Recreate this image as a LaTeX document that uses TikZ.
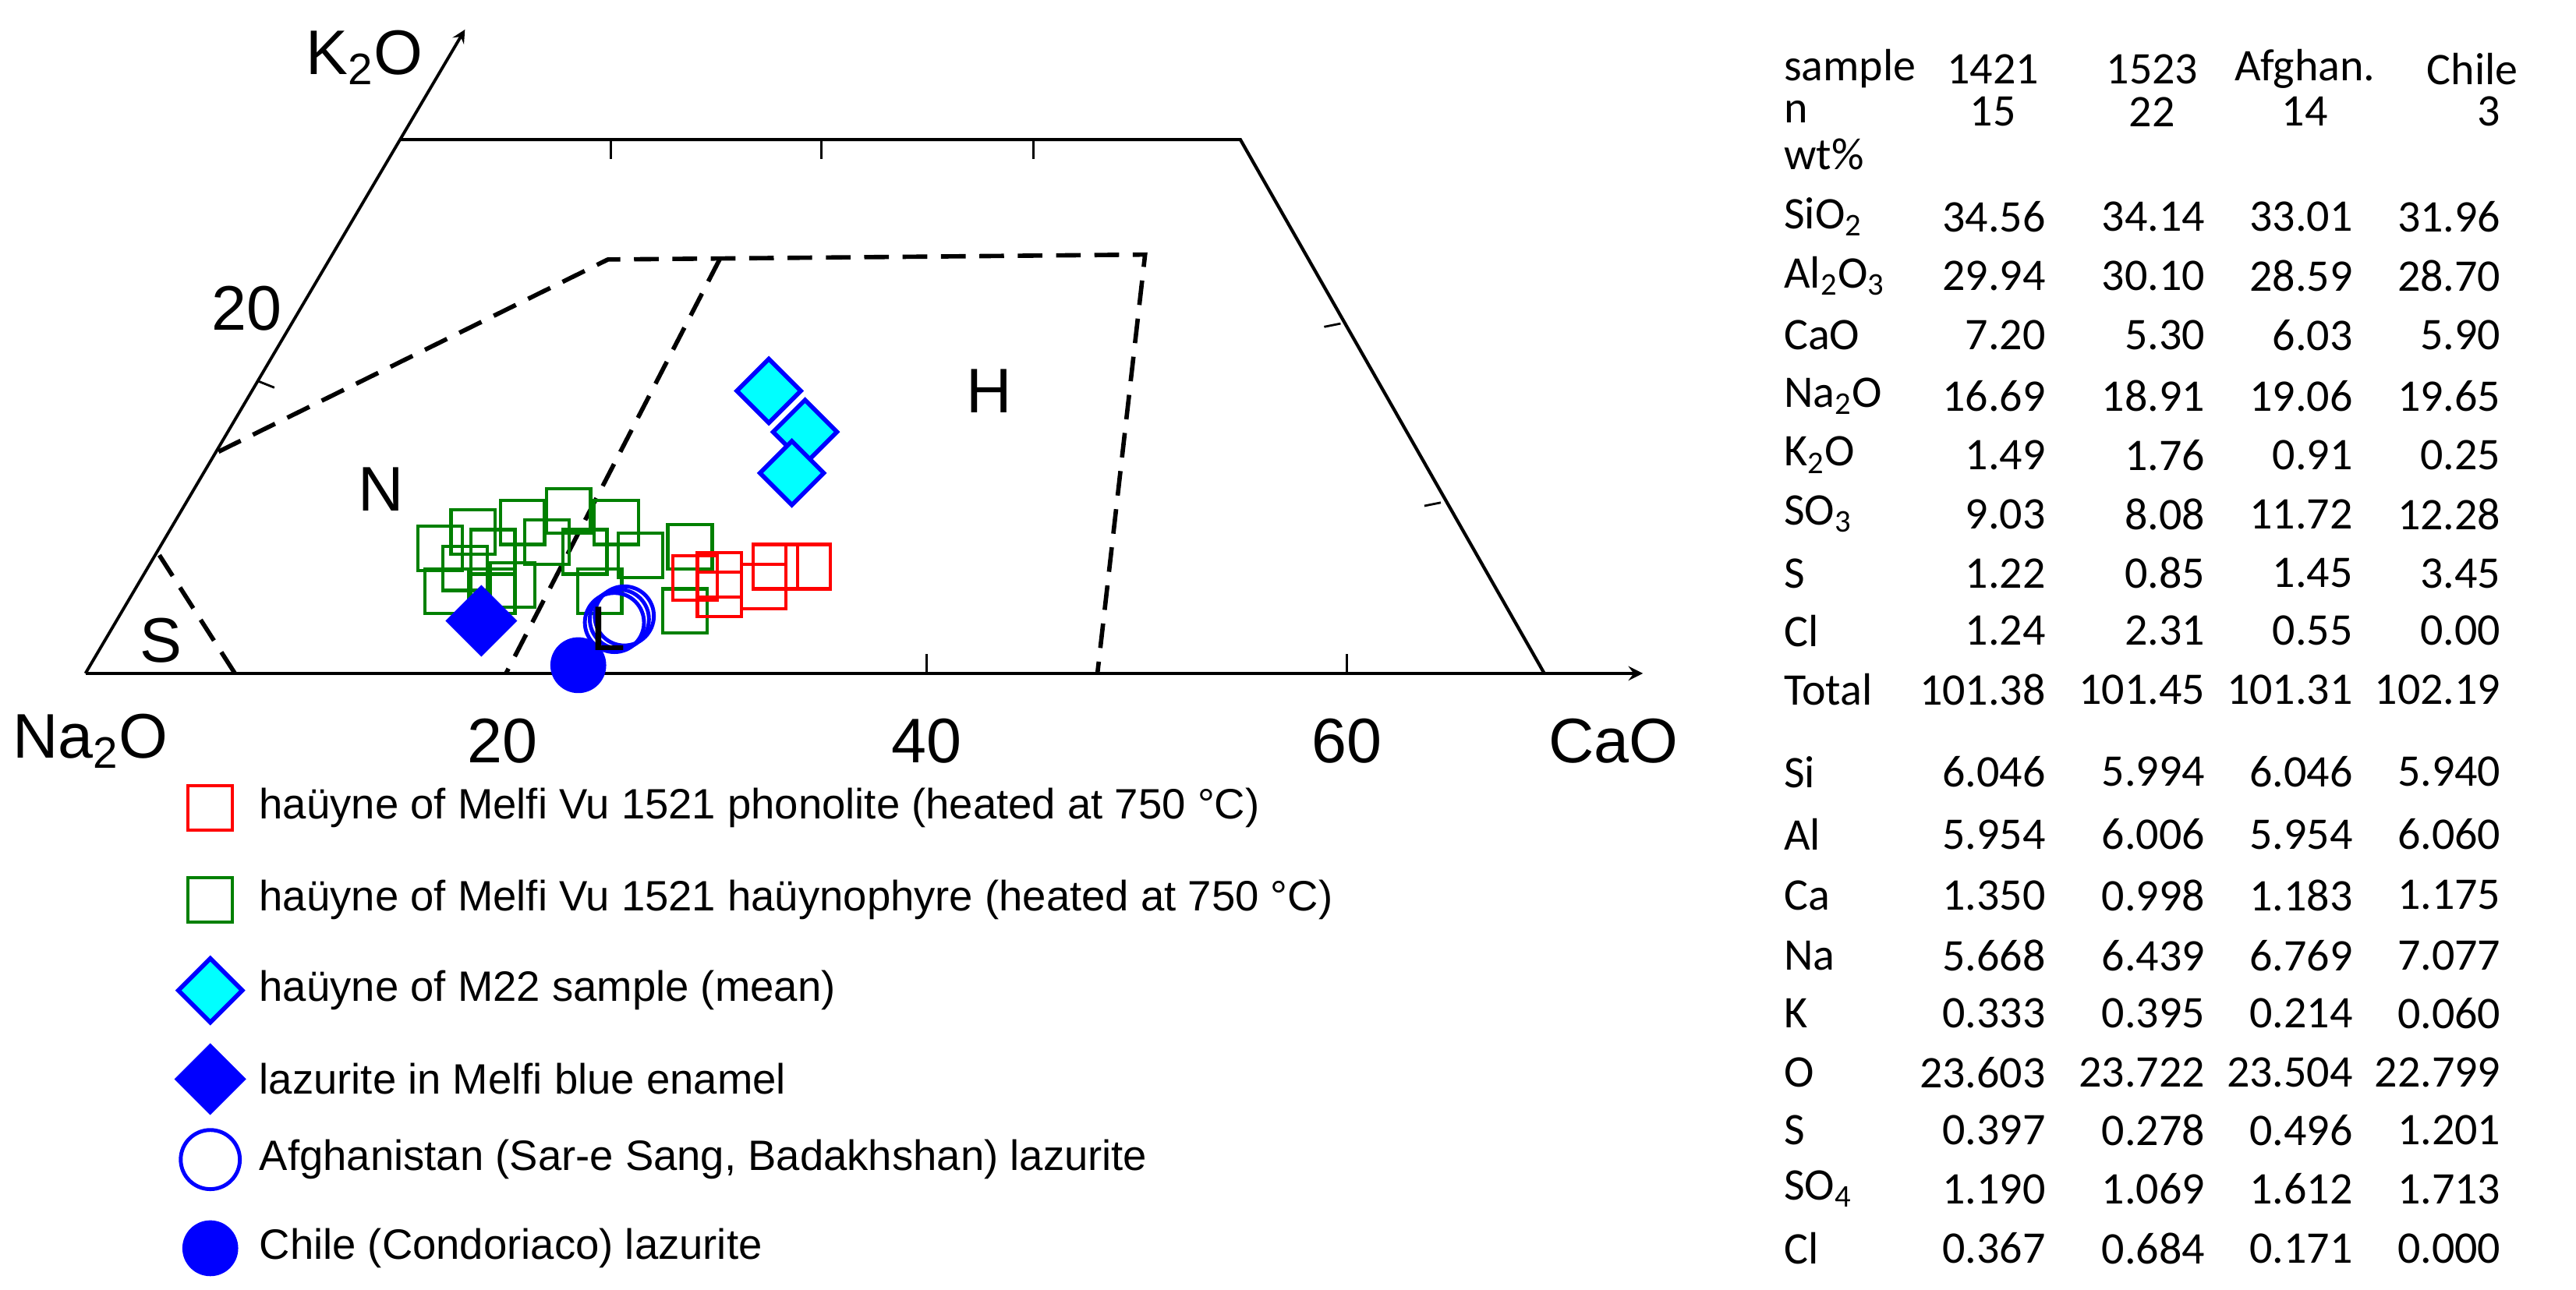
\documentclass[tikz,border=0pt]{standalone}
\usepackage{fontspec}
\setmainfont{Liberation Sans}
\newfontfamily\tabfont{Carlito}
\usetikzlibrary{shapes.geometric}
\definecolor{aqua}{RGB}{0,255,255}
\newdimen\punit
\punit=0.2107mm
\tikzset{
  gsq/.style={draw=green!50!black, line width=1.2pt, minimum size=27\punit, inner sep=0pt},
  rsq/.style={draw=red, line width=1.2pt, minimum size=27\punit, inner sep=0pt},
  cdia/.style={diamond, draw=blue, fill=aqua, line width=1.6pt, minimum size=40\punit, inner sep=0pt},
  bdia/.style={diamond, fill=blue, minimum size=44\punit, inner sep=0pt},
  bdot/.style={circle, fill=blue, minimum size=34\punit, inner sep=0pt},
  ocirc/.style={circle, draw=blue, line width=1.4pt, minimum size=36\punit, inner sep=0pt},
  bound/.style={black, line width=1.6pt, dash pattern=on 9pt off 5pt},
  axlab/.style={font=\fontsize{23}{26}\selectfont},
  leg/.style={anchor=west, font=\fontsize{15.5}{18}\selectfont},
  cell/.style={anchor=east, font=\tabfont\fontsize{16.5}{19}\selectfont},
  rowlab/.style={anchor=west, font=\tabfont\fontsize{16.5}{19}\selectfont},
}
\begin{document}
\begin{tikzpicture}[x=0.2107mm, y=-0.2107mm]
\useasboundingbox (0,0) rectangle (1568,785);

% axes
\coordinate (O) at (52,410);
\coordinate (xend) at (1000,410);
\coordinate (yend) at (283,18);
\draw[line width=1.3pt, -stealth] (O) -- (xend);
\draw[line width=1.1pt, -stealth] (O) -- (yend);
\coordinate (tl) at (244,85);
\coordinate (tr) at (755,85);
\coordinate (br) at (940,410);
\draw[line width=1.2pt] (tl) -- (tr) -- (br);
\foreach \x in {372,500,629} \draw[thick] (\x,85) -- (\x,97);
\foreach \x in {564,820} \draw[thick] (\x,410) -- (\x,398);
\draw[thick] (816,197) -- (806,199);
\draw[thick] (877,306) -- (867,308);
\draw[thick] (157,232) -- (167,236);

% field boundaries
\draw[bound] (97,338) -- (143,410);
\draw[bound] (133,275) -- (370,158) -- (697,155) -- (668,410);
\draw[bound] (438,158) -- (308,410);

% data
\foreach \x/\y in {268/334,288/324,300/336,318/318,346/311,375/318,356/336,390/338,420/333,272/360,300/360,333/330,365/360,417/372,312/356,283/346}
  \node[gsq] at (\x,\y) {};
\foreach \x/\y in {423/352,438/350,472/345,492/345,465/357,438/362}
  \node[rsq] at (\x,\y) {};
\node[cdia] (m1) at (468,238) {};
\node[cdia] (m2) at (490,263) {};
\node[cdia] (m3) at (482,288) {};
\node[bdia] (mel) at (293,378) {};
\foreach \dx/\dy in {0/0,-3/2,3/-2}
  \node[ocirc] at (377+\dx,377+\dy) {};
\node[bdot] (chi) at (352,405) {};

% labels
\node[axlab] (k2o) at (222,35) {K\textsubscript{2}O};
\node[axlab] (na2o) at (55,451) {Na\textsubscript{2}O};
\node[axlab] at (306,451) {20};
\node[axlab] at (564,451) {40};
\node[axlab] at (820,451) {60};
\node[axlab] (cao) at (982,451) {CaO};
\node[axlab] at (150,188) {20};
\node[axlab] at (98,390) {S};
\node[axlab] at (232,298) {N};
\node[axlab] at (602,238) {H};
\node[axlab] at (370,383) {L};

% legend
\node[rsq] (l1) at (128,492) {};
\node[gsq] (l2) at (128,548) {};
\node[cdia] (l3) at (128,603) {};
\node[bdia] (l4) at (128,657) {};
\node[ocirc] (l5) at (128,706) {};
\node[bdot] (l6) at (128,760) {};
\node[leg] at (152,492) {haüyne of Melfi Vu 1521 phonolite (heated at 750 °C)};
\node[leg] at (152,548) {haüyne of Melfi Vu 1521 haüynophyre (heated at 750 °C)};
\node[leg] at (152,603) {haüyne of M22 sample (mean)};
\node[leg] at (152,657) {lazurite in Melfi blue enamel};
\node[leg] at (152,706) {Afghanistan (Sar-e Sang, Badakhshan) lazurite};
\node[leg] at (152,760) {Chile (Condoriaco) lazurite};

% table
\node[rowlab] at (1080,42) {sample};
\node[rowlab] at (1080,68) {n};
\node[rowlab] at (1080,94) {wt\%};
\foreach \t/\x in {1421/1213,1523/1310,Afghan./1403,Chile/1505}
  \node[cell, anchor=center] at (\x,42) {\t};
\foreach \t/\x in {15/1213,22/1310,14/1403,3/1515}
  \node[cell, anchor=center] at (\x,68) {\t};
\foreach \lab/\y/\a/\b/\c/\d in {
  SiO\textsubscript{2}/132/34.56/34.14/33.01/31.96,
  Al\textsubscript{2}O\textsubscript{3}/168/29.94/30.10/28.59/28.70,
  CaO/204/7.20/5.30/6.03/5.90,
  Na\textsubscript{2}O/241/16.69/18.91/19.06/19.65,
  K\textsubscript{2}O/277/1.49/1.76/0.91/0.25,
  SO\textsubscript{3}/313/9.03/8.08/11.72/12.28,
  S/349/1.22/0.85/1.45/3.45,
  Cl/384/1.24/2.31/0.55/0.00,
  Total/420/101.38/101.45/101.31/102.19,
  Si/470/6.046/5.994/6.046/5.940,
  Al/508/5.954/6.006/5.954/6.060,
  Ca/545/1.350/0.998/1.183/1.175,
  Na/582/5.668/6.439/6.769/7.077,
  K/617/0.333/0.395/0.214/0.060,
  O/653/23.603/23.722/23.504/22.799,
  S/688/0.397/0.278/0.496/1.201,
  SO\textsubscript{4}/724/1.190/1.069/1.612/1.713,
  Cl/760/0.367/0.684/0.171/0.000}{
  \node[rowlab] at (1080,\y) {\lab};
  \node[cell] at (1251,\y) {\a};
  \node[cell] at (1348,\y) {\b};
  \node[cell] at (1438,\y) {\c};
  \node[cell] at (1528,\y) {\d};
}
\end{tikzpicture}
\end{document}
